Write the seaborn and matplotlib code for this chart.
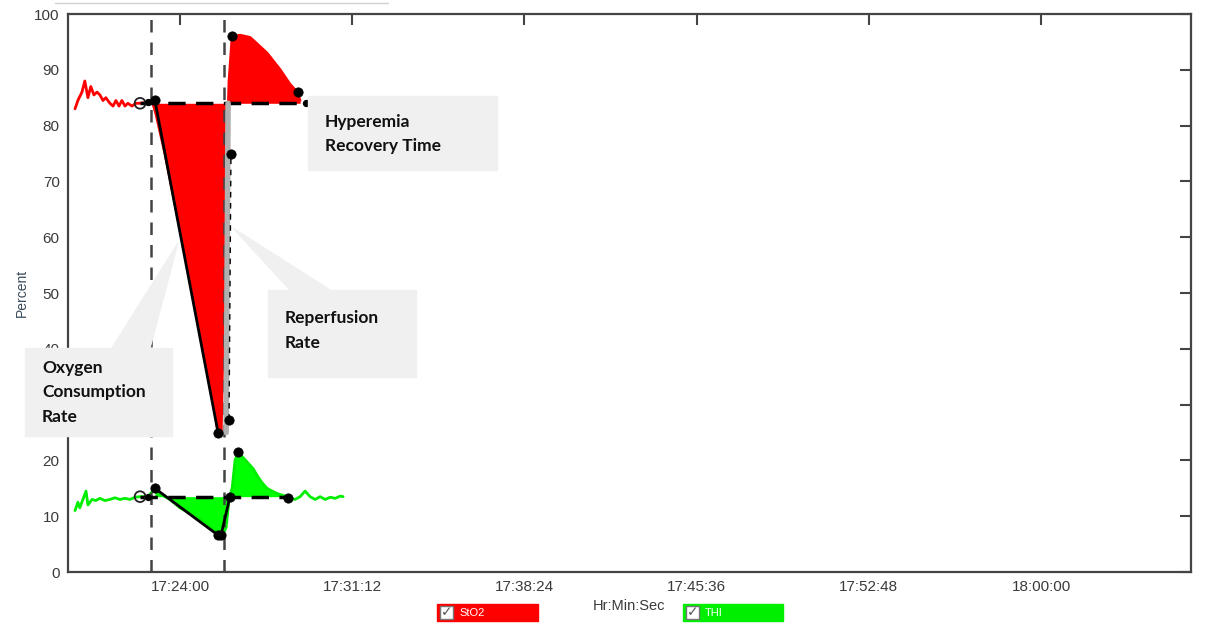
import numpy as np
import pandas as pd
import seaborn as sns
import matplotlib.pyplot as plt
from matplotlib.patches import Rectangle, Polygon
from matplotlib.lines import Line2D
from matplotlib.ticker import FuncFormatter

# time is given in minutes after 17:00:00
# StO2 (red) trace
sto2_pre_t = [19.61, 19.73, 19.90, 20.02, 20.15, 20.27, 20.40, 20.53, 20.65, 20.78, 20.90,
              21.07, 21.20, 21.32, 21.45, 21.57, 21.70, 21.82, 21.99, 22.16, 22.33, 22.66, 22.83]
sto2_pre_v = [83.0, 84.5, 86.0, 88.0, 85.0, 87.0, 85.5, 86.0, 85.5, 84.5, 85.0,
              84.0, 83.5, 84.5, 83.5, 84.5, 83.5, 84.0, 83.5, 84.0, 84.0, 84.2, 84.5]
sto2_evt_t = [22.83, 23.00, 23.37, 23.79, 24.21, 24.63, 25.05, 25.34, 25.59, 25.72, 25.80,
              25.93, 26.05, 26.18, 26.51, 26.93, 27.26, 27.64, 28.19, 28.60, 28.90, 29.02]
sto2_evt_v = [84.5, 82.0, 75.0, 66.0, 57.0, 48.0, 39.0, 32.0, 25.0, 24.5, 40.0,
              70.0, 88.0, 96.0, 96.2, 95.8, 94.5, 93.0, 90.0, 87.4, 86.0, 84.5]
sto2_base = 84.0

# THI (green) trace
thi_pre_t = [19.61, 19.73, 19.81, 19.94, 20.07, 20.15, 20.32, 20.48, 20.65, 20.86, 21.07,
             21.28, 21.49, 21.70, 21.91, 22.12, 22.33, 22.66, 22.95]
thi_pre_v = [11.0, 12.5, 11.5, 13.0, 14.5, 12.0, 13.0, 12.8, 13.2, 12.8, 13.0,
             13.3, 13.0, 13.2, 13.0, 13.4, 13.5, 13.5, 15.0]
thi_evt_t = [22.95, 23.16, 23.58, 24.00, 24.42, 24.84, 25.26, 25.59, 25.76, 25.93, 26.05,
             26.18, 26.30, 26.43, 26.64, 26.85, 27.06, 27.27, 27.43, 27.64, 27.85, 28.10,
             28.40, 28.60]
thi_evt_v = [15.0, 14.0, 13.0, 11.5, 10.5, 9.5, 8.0, 6.8, 6.5, 8.0, 13.0,
             15.0, 20.0, 21.5, 20.5, 19.5, 18.5, 17.0, 16.0, 15.0, 14.5, 14.0,
             13.6, 13.2]
thi_post_t = [28.60, 28.81, 29.02, 29.23, 29.44, 29.65, 29.86, 30.07, 30.28, 30.49, 30.70, 30.82]
thi_post_v = [13.2, 13.0, 13.5, 14.5, 13.5, 13.0, 13.5, 13.0, 13.4, 13.2, 13.6, 13.5]
thi_base = 13.5

# markers placed by the analysis software
occl_start, occl_end = 22.79, 25.84
sto2_dots_t = [22.95, 25.59, 26.18, 28.94, 26.13, 26.05]
sto2_dots_v = [84.5, 25.0, 96.0, 86.0, 74.9, 27.3]
thi_dots_t = [22.95, 25.59, 25.72, 26.09, 26.43, 28.52]
thi_dots_v = [15.0, 6.6, 6.7, 13.5, 21.5, 13.3]
hollow_t = [22.33, 22.33]
hollow_v = [84.0, 13.5]

xticks = [24.0, 31.2, 38.4, 45.6, 52.8, 60.0]
yticks = list(range(0, 101, 10))
# the 30 label sits under the callout box in the original
ylabels = ['' if v == 30 else str(v) for v in yticks]

W, H = 1209, 623
sns.set_theme(style="white")
plt.rcParams['font.family'] = ['Liberation Sans', 'DejaVu Sans']

fig = plt.figure(figsize=(W / 100, H / 100), dpi=100)
ax = fig.add_axes([68 / W, 1 - 572 / H, (1191 - 68) / W, (572 - 14) / H])

def px(x, y):
    return (x / W, 1 - y / H)

# fills
ax.fill_between(sto2_evt_t, sto2_evt_v, sto2_base, color='#ff0000', lw=0, zorder=2)
ax.fill_between(thi_evt_t, thi_evt_v, thi_base, color='#00ff00', lw=0, zorder=2)

# traces
sns.lineplot(x=sto2_pre_t, y=sto2_pre_v, color='#ff0000', lw=2, ax=ax, zorder=3)
sns.lineplot(x=sto2_evt_t, y=sto2_evt_v, color='#ff0000', lw=2, ax=ax, zorder=3)
sns.lineplot(x=thi_pre_t, y=thi_pre_v, color='#00ee00', lw=2, ax=ax, zorder=3)
sns.lineplot(x=thi_evt_t, y=thi_evt_v, color='#00ee00', lw=2, ax=ax, zorder=3)
sns.lineplot(x=thi_post_t, y=thi_post_v, color='#00ee00', lw=2, ax=ax, zorder=3)

# occlusion markers
for xv in (occl_start, occl_end):
    ax.axvline(xv, color='#444444', lw=1.8, dashes=(5, 4), zorder=4)

# baselines
ax.plot([22.33, 29.27], [sto2_base, sto2_base], color='black', lw=2.5, dashes=(5, 3), zorder=5)
ax.plot([22.33, 28.60], [thi_base, thi_base], color='black', lw=2.5, dashes=(5, 3), zorder=5)

# slopes
ax.plot([22.95, 25.59], [84.5, 25.0], color='black', lw=2, zorder=5)
ax.plot([25.93, 26.01], [25.0, 84.0], color='#b0b0b0', lw=4, zorder=5)
ax.plot([26.05, 26.13], [27.3, 74.9], color='black', lw=1, dashes=(4, 4), zorder=5)
ax.plot([22.95, 25.59, 25.72, 26.09], [15.0, 6.6, 6.7, 13.5], color='black', lw=2, zorder=5)

sns.scatterplot(x=sto2_dots_t + thi_dots_t, y=sto2_dots_v + thi_dots_v, color='black',
                s=45, edgecolor='black', ax=ax, zorder=6)
ax.scatter(hollow_t, hollow_v, s=60, facecolor='none', edgecolor='#222222', lw=1.3, zorder=6)
ax.scatter([22.66, 22.66, 29.27], [84.2, 13.5, 84.0], s=18, color='black', zorder=6)

# axes styling
ax.set_xlim(19.317, 66.27)
ax.set_ylim(0, 100)
ax.set_xticks(xticks)
ax.set_yticks(yticks)
ax.set_yticklabels(ylabels)

def hms(m, pos):
    s = int(round(17 * 3600 + m * 60))
    return f"{s // 3600}:{(s % 3600) // 60:02d}:{s % 60:02d}"

ax.xaxis.set_major_formatter(FuncFormatter(hms))
ax.tick_params(direction='in', top=True, right=True, length=8, width=1.5,
               color='#444444', labelsize=11, labelcolor='#3a3a3a', pad=6)
for sp in ax.spines.values():
    sp.set_color('#444444')
    sp.set_linewidth(1.6)
ax.set_xlabel('Hr:Min:Sec', fontsize=10.5, color='#3a3a3a', labelpad=3)
ax.set_ylabel('Percent', fontsize=10, color='#3a4a5a', labelpad=4)

# callouts
box_col = '#f0f0f0'
fig.add_artist(Polygon([px(178, 243), px(112, 348), px(150, 348)], closed=True,
                       transform=fig.transFigure, color=box_col, zorder=7))
fig.add_artist(Polygon([px(233, 228), px(290, 290), px(330, 290)], closed=True,
                       transform=fig.transFigure, color=box_col, zorder=7))
boxes = [
    ((308, 96, 497, 170), ['Hyperemia', 'Recovery Time'], 325, 122),
    ((268, 290, 416, 377), ['Reperfusion', 'Rate'], 285, 318),
    ((25, 348, 172, 436), ['Oxygen', 'Consumption', 'Rate'], 42, 368),
]
for (x0, y0, x1, y1), lines, tx, ty in boxes:
    fig.add_artist(Rectangle(px(x0, y1), (x1 - x0) / W, (y1 - y0) / H,
                             transform=fig.transFigure, color=box_col, zorder=7))
    for i, line in enumerate(lines):
        fig.text(*px(tx, ty + i * 24.5), line, fontsize=12.5, fontweight='bold',
                 family=['Lato', 'DejaVu Sans'], color='#111111', va='center', ha='left', zorder=8)

# legend chips
for (x0, x1), col, name in [((437, 538), '#ff0000', 'StO2'), ((683, 783), '#00ee00', 'THI')]:
    fig.add_artist(Rectangle(px(x0, 621), (x1 - x0) / W, 17 / H, transform=fig.transFigure,
                             facecolor=col, edgecolor=col, zorder=7))
    fig.add_artist(Rectangle(px(x0 + 3, 619), 13 / W, 13 / H, transform=fig.transFigure,
                             facecolor='white', edgecolor='#777777', lw=1, zorder=8))
    fig.text(*px(x0 + 9.5, 612.5), '\u2713', fontsize=10, color='#555555', ha='center',
             va='center', family=['DejaVu Sans'], zorder=9)
    fig.text(*px(x0 + 22, 612.5), name, fontsize=8, color='white', ha='left', va='center', zorder=9)

fig.add_artist(Line2D([55 / W, 388 / W], [1 - 3 / H] * 2, color='#d0d0d0', lw=1))

fig.savefig('out.png', dpi=100)
